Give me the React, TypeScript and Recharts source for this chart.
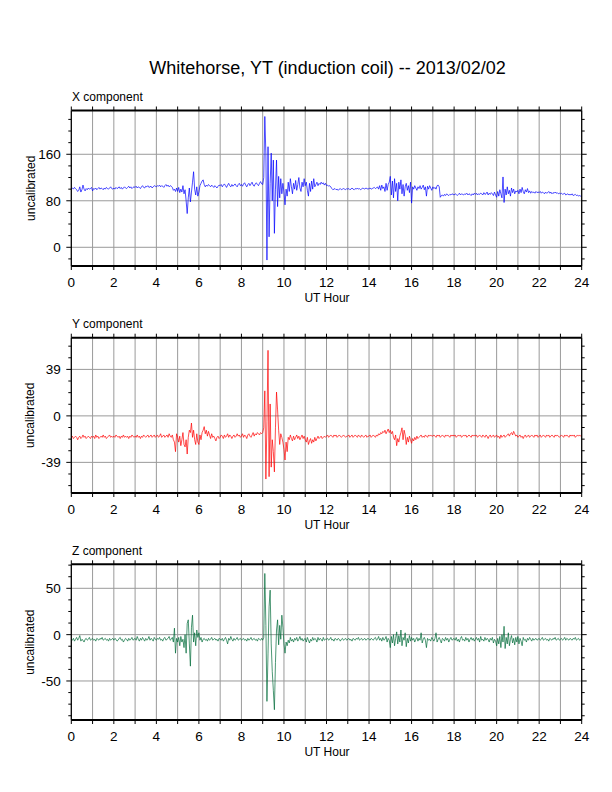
import React from "react";
import { LineChart, Line, XAxis, YAxis, ReferenceLine } from "recharts";

// ---- data (values every 0.05 h, one row per UT hour) ----
const X_VALUES = [
  101,102,100,103,101,99,96,98,104,95,99,107,100,97,101,99,102,100,101,103,
  97,101,100,102,99,101,103,100,102,101,99,102,100,103,101,100,102,104,101,100,
  102,100,103,101,102,104,101,103,100,102,104,102,101,103,105,102,104,101,103,104,
  103,105,102,104,103,101,104,106,103,102,105,104,106,103,104,105,102,104,106,105,
  104,106,105,107,104,106,105,103,106,108,105,107,104,106,105,103,98,100,96,102,
  96,103,94,100,95,106,92,99,80,58,85,102,78,95,112,130,100,90,104,88,
  95,106,110,114,116,108,104,107,105,108,106,104,107,105,103,106,104,102,105,107,
  106,108,104,107,109,106,103,107,110,106,104,108,105,107,109,106,104,108,110,106,
  108,105,109,111,107,104,108,110,106,109,112,107,105,109,111,108,106,110,113,109,
  108,120,225,160,-22,173,18,110,162,80,150,24,100,150,70,122,85,118,92,110,
  95,73,100,88,112,96,118,104,92,110,100,115,98,108,120,102,96,112,104,118,
  106,112,98,88,110,96,114,100,118,104,108,112,106,110,108,112,109,111,107,110,
  106,107,105,106,104,101,99,100,101,99,100,98,100,101,99,100,101,100,99,101,
  100,101,99,100,102,100,99,101,100,102,100,101,99,100,102,101,100,102,101,100,
  101,102,100,101,102,103,101,102,104,100,106,98,107,101,104,96,110,98,108,112,
  122,90,114,85,118,96,110,80,112,100,116,92,108,88,104,110,98,106,94,112,
  76,104,100,106,102,98,104,101,106,100,103,107,99,104,88,105,100,106,102,98,
  104,101,103,100,106,107,104,86,89,90,88,91,89,92,90,89,91,90,92,91,
  90,92,91,89,91,93,90,92,91,90,92,91,93,90,92,91,89,92,90,93,
  91,93,90,92,91,93,92,90,94,91,92,95,90,93,91,94,92,89,95,90,
  86,96,88,99,92,85,121,77,100,90,104,92,98,88,102,94,100,92,97,95,
  98,92,100,94,103,96,92,99,95,101,94,97,93,96,94,95,93,96,94,95,
  94,96,93,95,94,92,95,93,94,96,93,95,92,94,93,95,93,94,92,93,
  92,93,91,92,93,90,91,92,90,91,90,92,89,90,91,89,90,88,89,88,
  87,
];

const Y_VALUES = [
  -18,-17,-19,-18,-17,-18,-20,-18,-17,-19,-18,-16,-18,-17,-19,-18,-17,-18,-19,-17,
  -18,-17,-19,-16,-18,-17,-19,-18,-17,-18,-16,-18,-17,-19,-18,-17,-16,-18,-17,-18,
  -17,-18,-16,-17,-18,-17,-19,-17,-18,-16,-18,-17,-18,-17,-19,-17,-18,-16,-17,-18,
  -17,-18,-16,-18,-17,-19,-17,-18,-16,-17,-18,-17,-16,-18,-17,-16,-18,-17,-16,-18,
  -17,-16,-18,-17,-15,-18,-17,-16,-18,-17,-16,-18,-15,-17,-18,-16,-20,-22,-30,-15,
  -18,-22,-17,-25,-20,-14,-24,-26,-20,-32,-18,-12,-14,-6,-18,-12,-20,-24,-15,-22,
  -24,-16,-20,-14,-12,-9,-15,-12,-17,-13,-16,-19,-15,-18,-17,-19,-21,-18,-17,-19,
  -18,-16,-17,-19,-16,-18,-17,-15,-18,-16,-17,-19,-17,-16,-18,-17,-15,-17,-16,-18,
  -17,-15,-18,-16,-17,-19,-16,-15,-17,-18,-16,-14,-17,-15,-16,-14,-15,-16,-14,-15,
  -14,-10,21,-53,-5,55,-51,10,-43,-20,-30,-47,-10,20,5,-12,-24,-15,-18,-22,
  -28,-37,-22,-30,-18,-20,-16,-19,-21,-17,-20,-18,-16,-19,-17,-20,-18,-16,-19,-17,
  -20,-22,-18,-24,-21,-19,-23,-20,-22,-18,-21,-19,-17,-19,-18,-17,-19,-18,-17,-18,
  -17,-16,-18,-17,-16,-17,-18,-16,-17,-16,-18,-17,-16,-17,-18,-17,-16,-17,-18,-17,
  -17,-16,-18,-17,-16,-18,-17,-16,-17,-18,-16,-17,-18,-16,-17,-18,-17,-16,-18,-17,
  -17,-16,-18,-17,-16,-17,-18,-16,-17,-15,-16,-14,-15,-13,-14,-12,-15,-13,-11,-14,
  -12,-15,-13,-18,-20,-16,-25,-19,-22,-17,-14,-10,-20,-12,-16,-24,-18,-22,-17,-20,
  -23,-19,-21,-18,-20,-17,-19,-18,-17,-16,-18,-17,-18,-16,-17,-18,-16,-17,-16,-17,
  -17,-16,-17,-18,-16,-17,-16,-18,-17,-16,-17,-18,-16,-17,-16,-17,-18,-16,-17,-16,
  -17,-16,-18,-17,-16,-17,-16,-18,-17,-16,-17,-16,-18,-17,-16,-17,-18,-16,-17,-16,
  -17,-16,-18,-17,-16,-17,-18,-16,-17,-18,-16,-17,-19,-17,-16,-18,-17,-16,-18,-17,
  -16,-18,-17,-19,-16,-18,-17,-16,-18,-17,-16,-15,-17,-15,-14,-16,-13,-15,-17,-16,
  -18,-17,-16,-18,-17,-19,-17,-16,-18,-17,-16,-18,-17,-16,-17,-18,-16,-17,-16,-18,
  -17,-16,-18,-17,-16,-17,-18,-16,-17,-16,-18,-17,-16,-17,-18,-16,-17,-16,-17,-18,
  -17,-16,-17,-18,-16,-17,-16,-17,-18,-16,-17,-16,-17,-16,-18,-17,-16,-17,-16,-17,
  -17,
];

const Z_VALUES = [
  -5,-6,-4,-7,-5,-3,-6,-4,-1,-7,-5,-6,-8,-5,-4,-6,-5,-3,-6,-5,
  -4,-6,-5,-7,-4,-5,-6,-4,-5,-3,-6,-5,-4,-6,-5,-7,-4,-6,-5,-4,
  -6,-4,-5,-7,-6,-4,-3,-6,-5,-8,-6,-4,-5,-7,-4,-6,-5,-3,-6,-5,
  -4,-6,-2,-5,-7,-4,-6,-3,-5,-7,-4,-6,-5,-2,-6,-4,-5,-7,-3,-5,
  -6,-4,-5,-3,-6,-5,-7,-4,-3,-6,-5,-4,-2,-6,-5,-3,-8,7,-20,-4,
  -8,-3,-12,-2,-8,-5,-14,0,-20,12,16,-10,-34,8,21,-8,2,-12,5,-3,
  2,-6,-3,-8,-5,-4,-6,-5,-7,-4,-6,-5,-3,-6,-5,-4,-6,-5,-7,-4,
  -5,-6,-4,-7,-5,-3,-6,-10,-4,-6,-2,-5,-7,-4,-6,-5,-3,-6,-5,-4,
  -6,-5,-4,-6,-5,-7,-4,-6,-5,-3,-6,-5,-4,-6,-5,-7,-4,-5,-6,-4,
  -6,-3,66,10,-72,-20,30,48,-10,-40,-60,-81,-30,5,16,-11,10,-5,21,8,
  -10,-20,-8,-12,-6,-9,-3,-7,-5,-8,-4,-6,-3,-7,-5,-2,-6,-4,-7,-5,
  -4,-8,-3,-6,-9,-5,-7,-3,-6,-4,-5,-8,-3,-6,-4,-5,-7,-3,-6,-5,
  -5,-4,-6,-5,-3,-6,-5,-7,-4,-5,-6,-4,-5,-7,-5,-4,-6,-5,-4,-6,
  -5,-4,-6,-5,-7,-4,-5,-6,-4,-5,-3,-6,-5,-4,-6,-5,-4,-6,-5,-4,
  -5,-6,-4,-5,-6,-4,-3,-6,-5,-2,-6,-4,-7,-3,-6,-5,-2,-8,-4,-6,
  -14,-2,-9,0,-12,-4,3,-10,-1,-8,5,-12,-3,-6,2,-13,-4,-9,-1,-7,
  -3,-6,-4,-8,-5,-3,-7,-4,-6,2,-9,-5,-3,-6,-14,-4,-6,-5,-7,-3,
  -5,-7,-4,2,-8,-5,-3,-6,-9,-4,-5,-7,-3,-6,-4,-8,-5,-3,-6,-5,
  -4,-6,-3,-7,-5,-8,-4,-2,-6,-5,-7,-3,-6,-4,-8,-5,-3,-6,-4,-7,
  -5,-3,-6,-4,-8,-2,-6,-5,-7,-3,-6,-4,-5,-8,-4,-6,-3,-9,-5,-7,
  -12,-4,-10,-2,-14,0,-8,9,-15,-3,-10,2,-12,-5,-1,-9,-4,-11,-3,-8,
  -2,-10,-4,-7,-12,-3,-6,-5,-8,-4,-6,-3,-5,-7,-4,-6,-5,-4,-6,-5,
  -4,-6,-5,-3,-6,-5,-4,-6,-5,-7,-4,-5,-6,-4,-5,-3,-6,-5,-4,-6,
  -5,-4,-6,-5,-3,-6,-4,-5,-6,-4,-5,-6,-4,-5,-3,-6,-5,-4,-6,-5,
  -5,
];

const HOUR_TICKS = [0,1,2,3,4,5,6,7,8,9,10,11,12,13,14,15,16,17,18,19,20,21,22,23,24];
const HOUR_LABELS = [0,2,4,6,8,10,12,14,16,18,20,22,24];
const GRID_HOURS = [1,2,3,4,5,6,7,8,9,10,11,12,13,14,15,16,17,18,19,20,21,22,23];

const X_MAJOR = [0, 80, 160];
const X_MINOR = [-20,0,20,40,60,80,100,120,140,160,180,200,220];
const Y_MAJOR = [-39, 0, 39];
const Y_MINOR = [-58.5,-48.75,-39,-29.25,-19.5,-9.75,0,9.75,19.5,29.25,39,48.75,58.5];
const Z_MAJOR = [-50, 0, 50];
const Z_MINOR = [-87.5,-75,-62.5,-50,-37.5,-25,-12.5,0,12.5,25,37.5,50,62.5,75];

const TITLE = "Whitehorse, YT (induction coil) -- 2013/02/02";
const FONT = "'Liberation Sans', Arial, Helvetica, sans-serif";

const toRows = (vals: number[]) => vals.map((v, i) => ({ t: i / 20, v }));

type PanelDef = {
  name: string;
  rows: { t: number; v: number }[];
  color: string;
  domain: [number, number];
  majors: number[];
  minors: number[];
  plotTop: number;
  plotBottom: number;
};

const PANELS: PanelDef[] = [
  { name: "X component", rows: toRows(X_VALUES), color: "#0000ff", domain: [-32.2, 235.3], majors: X_MAJOR, minors: X_MINOR, plotTop: 110.5, plotBottom: 266 },
  { name: "Y component", rows: toRows(Y_VALUES), color: "#ff0000", domain: [-64.7, 65.6], majors: Y_MAJOR, minors: Y_MINOR, plotTop: 337.7, plotBottom: 493 },
  { name: "Z component", rows: toRows(Z_VALUES), color: "#006b3a", domain: [-92.1, 75.9], majors: Z_MAJOR, minors: Z_MINOR, plotTop: 564.3, plotBottom: 720 },
];

const makeLeftTick = (majors: number[]) => (props: any) => {
  const { x, y, payload } = props;
  const major = majors.includes(payload.value);
  return (
    <g>
      <line x1={x - (major ? 5 : 3)} x2={x} y1={y} y2={y} stroke="#000" strokeWidth={1} />
      {major && (
        <text x={x - 10.5} y={y} dy="0.36em" textAnchor="end" fontSize={13.5} fontFamily={FONT} fill="#000">
          {payload.value}
        </text>
      )}
    </g>
  );
};

const makeRightTick = (majors: number[]) => (props: any) => {
  const { x, y, payload } = props;
  const major = majors.includes(payload.value);
  return <line x1={x} x2={x + (major ? 5 : 3)} y1={y} y2={y} stroke="#000" strokeWidth={1} />;
};

const BottomTick = (props: any) => {
  const { x, y, payload } = props;
  const show = HOUR_LABELS.includes(payload.value);
  return (
    <g>
      <line x1={x} x2={x} y1={y} y2={y + 4} stroke="#000" strokeWidth={1} />
      {show && (
        <text x={x} y={y + 21.3} textAnchor="middle" fontSize={13.5} fontFamily={FONT} fill="#000">
          {payload.value}
        </text>
      )}
    </g>
  );
};

const TopTick = (props: any) => {
  const { x, y } = props;
  return <line x1={x} x2={x} y1={y - 4} y2={y} stroke="#000" strokeWidth={1} />;
};

const Panel = ({ p }: { p: PanelDef }) => {
  const topAxisH = 10;
  const bottomAxisH = 30;
  return (
    <div style={{ position: "absolute", left: 0, top: 0, width: 612, height: 792 }}>
      <LineChart
        width={612}
        height={792}
        data={p.rows}
        margin={{ top: p.plotTop - topAxisH, bottom: 792 - p.plotBottom - bottomAxisH, left: 0.3, right: 0.3 }}
      >
        <XAxis
          xAxisId="b"
          dataKey="t"
          type="number"
          domain={[0, 24]}
          allowDataOverflow
          ticks={HOUR_TICKS}
          interval={0}
          orientation="bottom"
          height={bottomAxisH}
          tickSize={0}
          tickMargin={0}
          tickLine={false}
          tick={BottomTick}
          axisLine={{ stroke: "#000", strokeWidth: 2 }}
        />
        <XAxis
          xAxisId="t"
          dataKey="t"
          type="number"
          domain={[0, 24]}
          allowDataOverflow
          ticks={HOUR_TICKS}
          interval={0}
          orientation="top"
          height={topAxisH}
          tickSize={0}
          tickMargin={0}
          tickLine={false}
          tick={TopTick}
          axisLine={{ stroke: "#000", strokeWidth: 2 }}
        />
        <YAxis
          yAxisId="l"
          type="number"
          domain={p.domain}
          allowDataOverflow
          ticks={p.minors}
          interval={0}
          orientation="left"
          width={71}
          tickSize={0}
          tickMargin={0}
          tickLine={false}
          tick={makeLeftTick(p.majors)}
          axisLine={{ stroke: "#000", strokeWidth: 1.3 }}
        />
        <YAxis
          yAxisId="r"
          type="number"
          domain={p.domain}
          allowDataOverflow
          ticks={p.minors}
          interval={0}
          orientation="right"
          width={30}
          tickSize={0}
          tickMargin={0}
          tickLine={false}
          tick={makeRightTick(p.majors)}
          axisLine={{ stroke: "#000", strokeWidth: 1.3 }}
        />
        {GRID_HOURS.map((h) => (
          <ReferenceLine key={"gx" + h} xAxisId="b" yAxisId="l" x={h} stroke="#9a9a9a" strokeWidth={1} ifOverflow="visible" />
        ))}
        {p.majors.map((m) => (
          <ReferenceLine key={"gy" + m} xAxisId="b" yAxisId="l" y={m} stroke="#9a9a9a" strokeWidth={1} ifOverflow="visible" />
        ))}
        <Line
          xAxisId="b"
          yAxisId="l"
          dataKey="v"
          type="linear"
          stroke={p.color}
          strokeWidth={0.7}
          dot={false}
          activeDot={false}
          isAnimationActive={false}
        />
      </LineChart>
    </div>
  );
};

export default function App() {
  return (
    <div style={{ position: "absolute", left: 0, top: 0, width: 612, height: 792, background: "#fff" }}>
      {PANELS.map((p) => (
        <Panel key={p.name} p={p} />
      ))}
      <svg width={612} height={792} style={{ position: "absolute", left: 0, top: 0, pointerEvents: "none" }}>
        <text x={327.5} y={74} textAnchor="middle" fontSize={18} fontFamily={FONT} fill="#000">
          {TITLE}
        </text>
        {PANELS.map((p) => {
          const mid = (p.plotTop + p.plotBottom) / 2;
          return (
            <g key={"lbl" + p.name}>
              <text x={72} y={p.plotTop - 9.5} fontSize={12} fontFamily={FONT} fill="#000">
                {p.name}
              </text>
              <text x={327} y={p.plotBottom + 36} textAnchor="middle" fontSize={12} fontFamily={FONT} fill="#000">
                UT Hour
              </text>
              <text
                x={34.5}
                y={mid}
                textAnchor="middle"
                fontSize={12}
                fontFamily={FONT}
                fill="#000"
                transform={`rotate(-90 34.5 ${mid})`}
              >
                uncalibrated
              </text>
            </g>
          );
        })}
      </svg>
    </div>
  );
}
